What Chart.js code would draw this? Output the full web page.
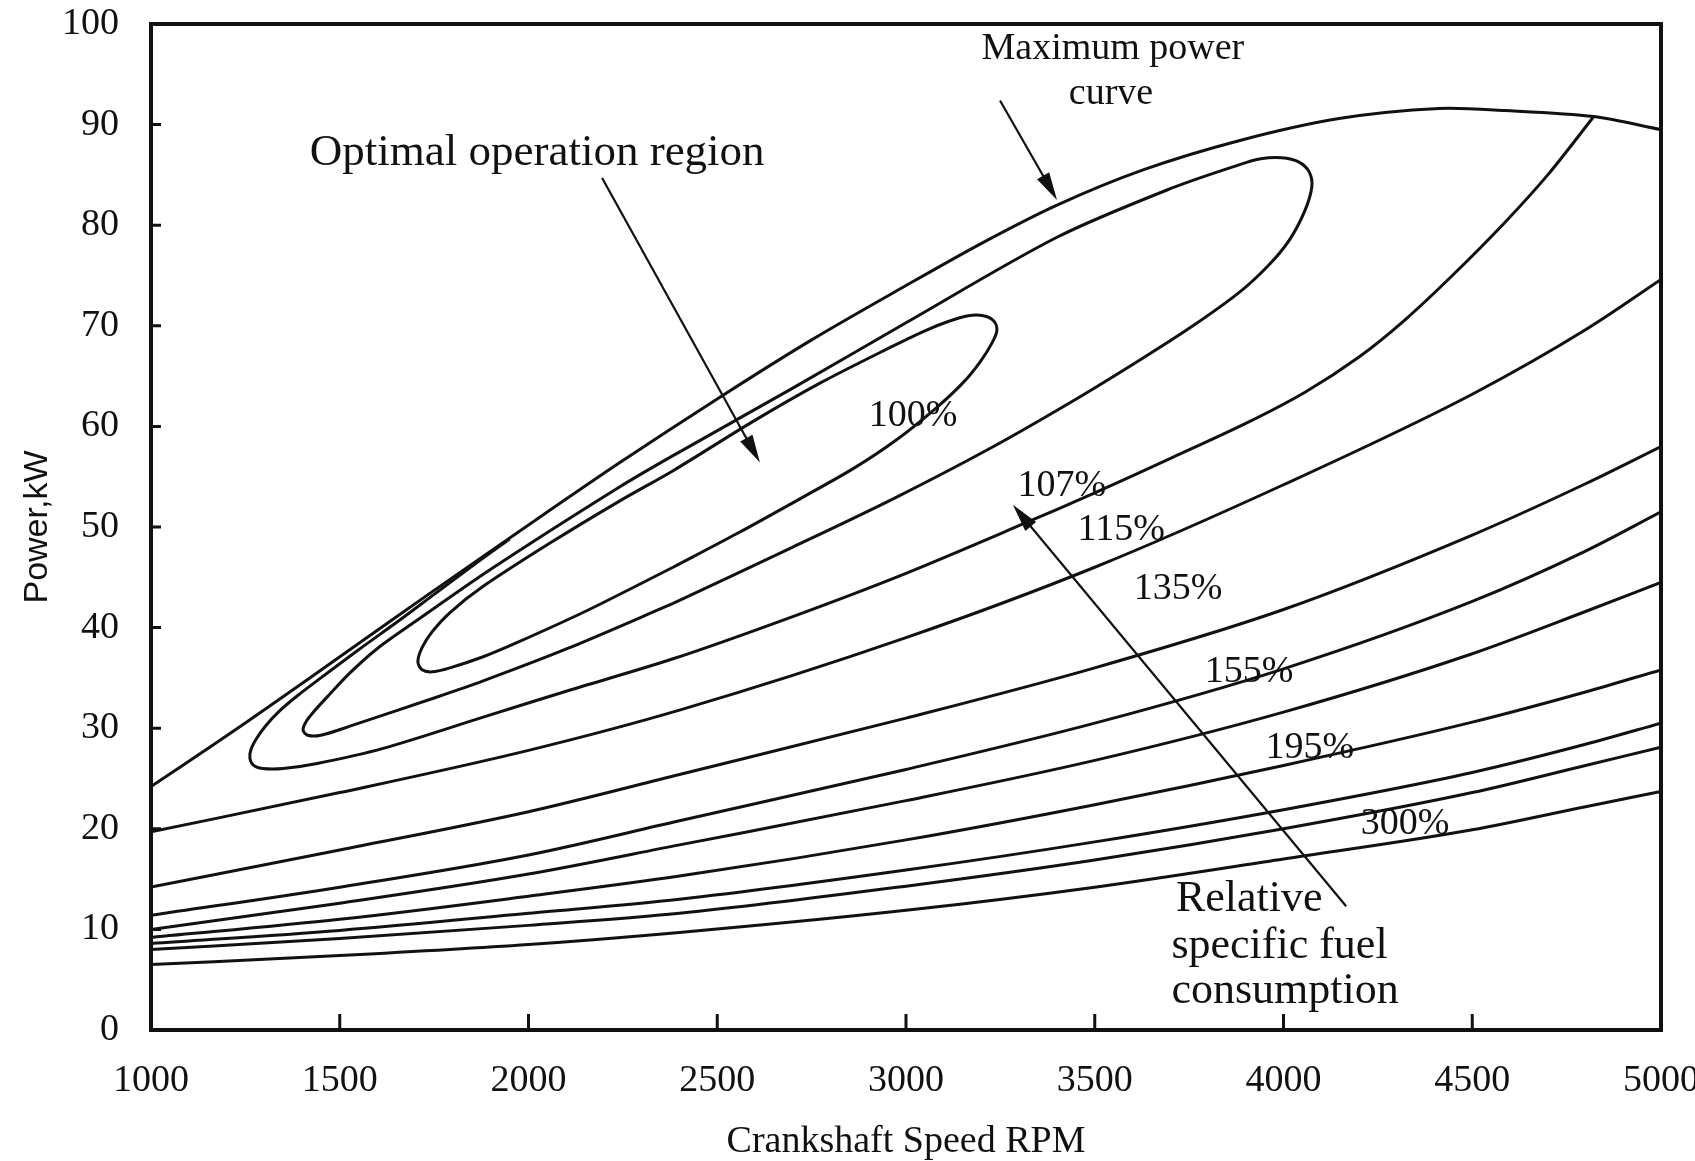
<!DOCTYPE html>
<html lang="en">
<head>
<meta charset="utf-8">
<title>Relative specific fuel consumption map</title>
<script src="https://cdn.jsdelivr.net/npm/chart.js@4.4.1/dist/chart.umd.min.js"></script>
<style>
  html, body { margin: 0; padding: 0; background: #fff; }
  fuel-map { display: block; width: 1695px; height: 1161px; }
</style>
</head>
<body>
<fuel-map></fuel-map>
<script>
// Values: x = crankshaft speed (RPM), y = power (kW)

const speedTicks = [1000, 1500, 2000, 2500, 3000, 3500, 4000, 4500, 5000];
const powerTicks = [0, 10, 20, 30, 40, 50, 60, 70, 80, 90, 100];

// Maximum power curve
const maxPowerRpm = [1000, 1175, 1307, 1519, 1750, 2000, 2242, 2507, 2750, 3000, 3200, 3400, 3628, 3882, 4147, 4412, 4587, 4822, 5000];
const maxPowerKw  = [24.2, 28.6, 32.0, 37.6, 43.7, 50.2, 56.4, 62.9, 68.6, 74.0, 78.2, 82.0, 85.5, 88.4, 90.6, 91.6, 91.4, 90.8, 89.5];

// 100% island (closed)
const sfc100Rpm = [2383, 2550, 2719, 2860, 2976, 3082, 3150, 3196, 3228, 3241, 3232, 3205, 3165, 3110, 3050, 2950, 2772, 2595, 2383, 2242, 2057, 1880, 1792, 1745, 1718, 1707, 1718, 1745, 1792, 1880, 1969, 2150, 2383];
const sfc100Kw  = [46.0, 49.3, 52.8, 55.8, 58.7, 61.9, 64.3, 66.4, 68.3, 69.6, 70.5, 71.0, 71.0, 70.4, 69.5, 67.7, 64.3, 60.5, 55.6, 52.6, 48.4, 44.1, 41.5, 39.6, 38.0, 36.6, 35.8, 35.6, 36.0, 37.1, 38.5, 41.6, 46.0];

// second island (closed)
const sfcMidRpm = [2383, 2700, 2966, 3222, 3450, 3628, 3760, 3882, 3960, 4015, 4055, 4075, 4068, 4040, 3995, 3940, 3882, 3705, 3400, 3000, 2700, 2383, 2242, 1900, 1700, 1599, 1527, 1474, 1435, 1410, 1403, 1415, 1450, 1527, 1750, 1880, 2102, 2383];
const sfcMidKw  = [42.4, 48.0, 52.8, 57.8, 62.7, 66.8, 70.0, 73.3, 76.0, 78.5, 81.3, 83.8, 85.3, 86.3, 86.7, 86.6, 86.0, 83.7, 78.8, 70.3, 63.8, 57.1, 54.0, 45.8, 40.6, 37.9, 35.5, 33.4, 31.8, 30.6, 29.8, 29.3, 29.3, 30.2, 33.0, 34.7, 37.9, 42.4];

// 107% contour, from the max power curve round the low speed tip and back up to it
const sfc107Rpm = [1950, 1850, 1750, 1650, 1550, 1450, 1387, 1340, 1305, 1280, 1265, 1262, 1272, 1295, 1350, 1440, 1615, 1880, 2102, 2383, 2700, 3000, 3310, 3500, 3705, 3900, 4057, 4200, 4322, 4450, 4587, 4700, 4822];
const sfc107Kw  = [48.8, 46.1, 43.3, 40.5, 37.8, 35.0, 33.2, 31.7, 30.3, 29.0, 27.9, 27.0, 26.3, 26.0, 26.0, 26.5, 28.0, 31.1, 33.7, 36.9, 41.1, 45.4, 50.3, 53.4, 56.9, 60.3, 63.4, 66.9, 70.6, 75.1, 80.3, 85.0, 90.8];

// open contours running across the whole speed range
const fuelRpm  = [1000, 1500, 2000, 2400, 3000, 3500, 4000, 4500, 4800, 5000];
const sfc115Kw = [19.7, 23.6, 27.8, 31.8, 39.0, 46.0, 54.2, 63.2, 69.6, 74.6];
const sfc135Kw = [14.2, 17.9, 21.7, 25.4, 31.0, 36.0, 41.8, 49.2, 54.3, 58.0];
const sfc155Kw = [11.4, 14.2, 17.4, 20.8, 25.9, 30.5, 35.9, 42.6, 47.6, 51.5];
const sfc175Kw = [10.0, 12.6, 15.5, 18.4, 22.8, 26.8, 31.6, 37.4, 41.6, 44.5];
const sfc195Kw = [9.2, 11.0, 13.3, 15.3, 18.9, 22.4, 26.3, 30.6, 33.6, 35.8];
const sfc240Kw = [8.6, 9.9, 11.6, 13.0, 15.9, 18.7, 21.9, 25.6, 28.4, 30.5];
const sfc300Kw = [8.0, 9.1, 10.4, 11.6, 14.3, 16.9, 20.0, 23.6, 26.3, 28.1];
const sfc400Kw = [6.5, 7.4, 8.5, 9.7, 11.9, 14.2, 17.0, 19.9, 22.2, 23.7];

// text and arrows placed in data units
const notes = [
  { text: 'Maximum power', rpm: 3548, kw: 97.5, size: 38 },
  { text: 'curve', rpm: 3543, kw: 93.0, size: 38 },
  { text: 'Optimal operation region', rpm: 2023, kw: 87.2, size: 45 },
  { text: '100%', rpm: 3019, kw: 61.0, size: 38 },
  { text: '107%', rpm: 3413, kw: 54.1, size: 38 },
  { text: '115%', rpm: 3570, kw: 49.7, size: 38 },
  { text: '135%', rpm: 3721, kw: 43.8, size: 38 },
  { text: '155%', rpm: 3909, kw: 35.6, size: 38 },
  { text: '195%', rpm: 4070, kw: 28.0, size: 38 },
  { text: '300%', rpm: 4322, kw: 20.5, size: 38 },
  { text: 'Relative', rpm: 3715, kw: 13.0, size: 44, align: 'left' },
  { text: 'specific fuel', rpm: 3703, kw: 8.3, size: 44, align: 'left' },
  { text: 'consumption', rpm: 3703, kw: 3.8, size: 44, align: 'left' }
];

const arrows = [
  { from: [3249, 92.4], to: [3400, 82.5] },
  { from: [2195, 84.7], to: [2613, 56.4] },
  { from: [4166, 12.3], to: [3283, 52.2] }
];

const FONT = '"Liberation Serif", "Times New Roman", serif';

function toPoints(rpm, kw) {
  return rpm.map((x, i) => ({ x: x, y: kw[i] }));
}

const notesPlugin = {
  id: 'mapNotes',
  afterDatasetsDraw(chart) {
    const { ctx } = chart;
    const xs = chart.scales.x;
    const ys = chart.scales.y;
    ctx.save();
    ctx.fillStyle = '#111';
    ctx.strokeStyle = '#111';

    arrows.forEach(a => {
      const x0 = xs.getPixelForValue(a.from[0]);
      const y0 = ys.getPixelForValue(a.from[1]);
      const x1 = xs.getPixelForValue(a.to[0]);
      const y1 = ys.getPixelForValue(a.to[1]);
      const ang = Math.atan2(y1 - y0, x1 - x0);
      const head = 28;
      const half = 7;
      ctx.lineWidth = 2.2;
      ctx.beginPath();
      ctx.moveTo(x0, y0);
      ctx.lineTo(x1 - Math.cos(ang) * head * 0.7, y1 - Math.sin(ang) * head * 0.7);
      ctx.stroke();
      ctx.beginPath();
      ctx.moveTo(x1, y1);
      ctx.lineTo(x1 - head * Math.cos(ang) + half * Math.sin(ang), y1 - head * Math.sin(ang) - half * Math.cos(ang));
      ctx.lineTo(x1 - head * Math.cos(ang) - half * Math.sin(ang), y1 - head * Math.sin(ang) + half * Math.cos(ang));
      ctx.closePath();
      ctx.fill();
    });

    ctx.textBaseline = 'middle';
    notes.forEach(n => {
      ctx.font = n.size + 'px ' + FONT;
      ctx.textAlign = n.align || 'center';
      ctx.fillText(n.text, xs.getPixelForValue(n.rpm), ys.getPixelForValue(n.kw));
    });
    ctx.restore();
  }
};

// plot frame plus the small inward tick marks
const framePlugin = {
  id: 'mapFrame',
  beforeDraw(chart) {
    const { ctx } = chart;
    ctx.save();
    ctx.fillStyle = '#fff';
    ctx.fillRect(0, 0, chart.width, chart.height);
    ctx.restore();
  },
  afterDraw(chart) {
    const { ctx, chartArea: a } = chart;
    const xs = chart.scales.x;
    const ys = chart.scales.y;
    ctx.save();
    ctx.strokeStyle = '#111';
    ctx.lineWidth = 3;
    ctx.beginPath();
    xs.ticks.forEach(t => {
      if (t.value > xs.min && t.value < xs.max) {
        const px = xs.getPixelForValue(t.value);
        ctx.moveTo(px, a.bottom);
        ctx.lineTo(px, a.bottom - 16);
      }
    });
    ys.ticks.forEach(t => {
      if (t.value > ys.min && t.value < ys.max) {
        const py = ys.getPixelForValue(t.value);
        ctx.moveTo(a.left, py);
        ctx.lineTo(a.left + 10, py);
      }
    });
    ctx.stroke();
    ctx.lineWidth = 4;
    ctx.strokeRect(a.left, a.top, a.right - a.left, a.bottom - a.top);
    ctx.restore();
  }
};

class FuelMap extends HTMLElement {
  constructor() {
    super();
    this.chart = null;
  }

  connectedCallback() {
    if (!this.querySelector('canvas')) {
      const canvas = document.createElement('canvas');
      canvas.width = 1695;
      canvas.height = 1161;
      this.appendChild(canvas);
    }
    try {
      this.renderChart(this.querySelector('canvas'));
    } catch (error) {
      console.error('Error drawing fuel map:', error);
    }
  }

  renderChart(canvas) {
    const line = {
      showLine: true,
      borderColor: '#111',
      borderWidth: 3,
      pointRadius: 0,
      fill: false
    };
    // fuel contours run left to right so they get monotone splines,
    // the max power curve (it has a peak) and the loops get plain tension
    const open = { cubicInterpolationMode: 'monotone' };
    const loop = { tension: 0.3 };

    const curves = [
      ['Maximum power curve', maxPowerRpm, maxPowerKw, loop],
      ['100%', sfc100Rpm, sfc100Kw, loop],
      ['island', sfcMidRpm, sfcMidKw, loop],
      ['107%', sfc107Rpm, sfc107Kw, loop],
      ['115%', fuelRpm, sfc115Kw, open],
      ['135%', fuelRpm, sfc135Kw, open],
      ['155%', fuelRpm, sfc155Kw, open],
      ['175%', fuelRpm, sfc175Kw, open],
      ['195%', fuelRpm, sfc195Kw, open],
      ['240%', fuelRpm, sfc240Kw, open],
      ['300%', fuelRpm, sfc300Kw, open],
      ['400%', fuelRpm, sfc400Kw, open]
    ];

    this.chart = new Chart(canvas, {
      type: 'scatter',
      data: {
        datasets: curves.map(c => Object.assign({ label: c[0], data: toPoints(c[1], c[2]) }, line, c[3]))
      },
      options: {
        responsive: false,
        animation: false,
        layout: { padding: { top: 24, right: 34, bottom: 0, left: 0 } },
        plugins: {
          legend: { display: false },
          tooltip: { enabled: false }
        },
        scales: {
          x: {
            type: 'linear',
            min: 1000,
            max: 5000,
            afterBuildTicks: s => { s.ticks = speedTicks.map(v => ({ value: v })); },
            afterFit: s => { s.height = 131; s.paddingLeft = 0; s.paddingRight = 0; },
            ticks: {
              callback: v => String(v),
              color: '#111',
              padding: 28,
              maxRotation: 0,
              autoSkip: false,
              font: { family: FONT, size: 38 }
            },
            grid: { display: false, drawTicks: false },
            border: { display: false },
            title: {
              display: true,
              text: 'Crankshaft Speed RPM',
              color: '#111',
              font: { family: FONT, size: 38, lineHeight: 1 },
              padding: { top: 1, bottom: 0 }
            }
          },
          y: {
            type: 'linear',
            min: 0,
            max: 100,
            afterBuildTicks: s => { s.ticks = powerTicks.map(v => ({ value: v })); },
            afterFit: s => { s.width = 151; s.paddingTop = 0; s.paddingBottom = 0; },
            ticks: {
              callback: v => String(v),
              color: '#111',
              padding: 32,
              font: { family: FONT, size: 38 }
            },
            grid: { display: false, drawTicks: false },
            border: { display: false },
            title: {
              display: true,
              text: 'Power,kW',
              color: '#111',
              font: { family: '"Liberation Sans", Arial, sans-serif', size: 34, lineHeight: 1.2 },
              padding: { top: 17, bottom: 0 }
            }
          }
        }
      },
      plugins: [framePlugin, notesPlugin]
    });
  }

  disconnectedCallback() {
    if (this.chart) {
      this.chart.destroy();
    }
  }
}

customElements.define('fuel-map', FuelMap);
</script>
</body>
</html>
